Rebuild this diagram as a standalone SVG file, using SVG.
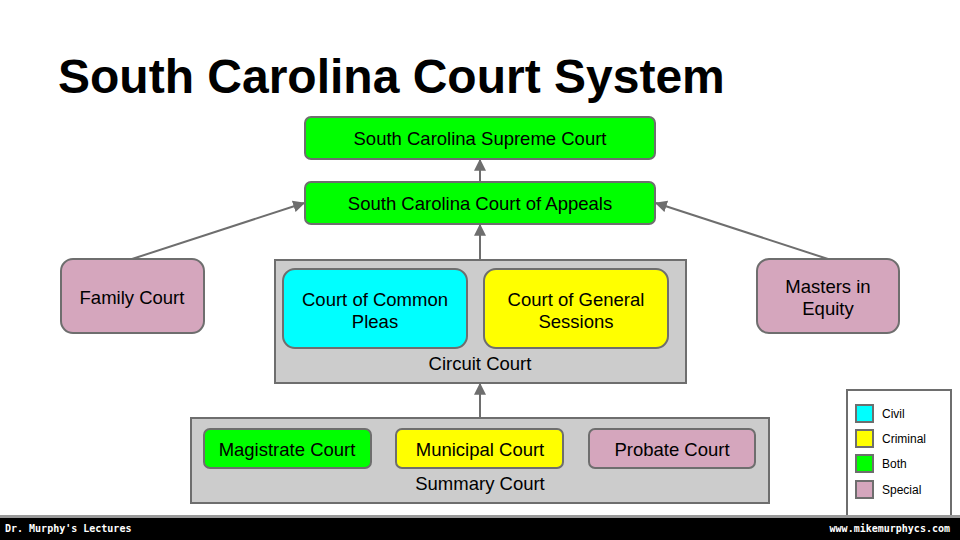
<svg xmlns="http://www.w3.org/2000/svg" width="960" height="540" viewBox="0 0 960 540">
<defs>
<marker id="ah" viewBox="0 0 10 10" refX="9" refY="5" markerWidth="12" markerHeight="12" markerUnits="userSpaceOnUse" orient="auto">
<path d="M0,0 L10,5 L0,10 z" fill="#6e6e6e"/>
</marker>
</defs>
<style>
.t{font-family:"Liberation Sans",Arial,sans-serif;font-size:18.5px;fill:#000;text-anchor:middle}
.b{stroke:#6e6e6e;stroke-width:2}
.g{fill:#00ff00}.y{fill:#ffff00}.c{fill:#00ffff}.p{fill:#d5a6bd}
.box{fill:#cccccc;stroke:#6e6e6e;stroke-width:2}
.lg{font-family:"Liberation Sans",Arial,sans-serif;font-size:12px;fill:#000}
.conn{stroke:#6e6e6e;stroke-width:2;fill:none;marker-end:url(#ah)}
.ft{font-family:"DejaVu Sans Mono","Liberation Mono",monospace;font-size:10px;font-weight:bold;fill:#fff}
</style>
<rect width="960" height="540" fill="#fff"/>
<text x="58" y="93" font-family="Liberation Sans,Arial,sans-serif" font-weight="bold" font-size="48" fill="#000">South Carolina Court System</text>

<g id="circuit">
<rect class="box" x="275" y="260" width="411" height="123"/>
<text class="t" x="480" y="370">Circuit Court</text>
</g>
<g id="summary">
<rect class="box" x="191" y="418" width="578" height="85"/>
<text class="t" x="480" y="490">Summary Court</text>
</g>

<g id="supreme">
<rect class="b g" x="305" y="117" width="350" height="42" rx="6"/>
<text class="t" x="480" y="145">South Carolina Supreme Court</text>
</g>
<g id="appeals">
<rect class="b g" x="305" y="182" width="350" height="42" rx="6"/>
<text class="t" x="480" y="210">South Carolina Court of Appeals</text>
</g>
<g id="common-pleas">
<rect class="b c" x="283" y="269" width="184" height="79" rx="12"/>
<text class="t" x="375" y="306">Court of Common</text>
<text class="t" x="375" y="328">Pleas</text>
</g>
<g id="general-sessions">
<rect class="b y" x="484" y="269" width="184" height="79" rx="12"/>
<text class="t" x="576" y="306">Court of General</text>
<text class="t" x="576" y="328">Sessions</text>
</g>
<g id="family">
<rect class="b p" x="61" y="259" width="143" height="74" rx="12"/>
<text class="t" x="132" y="304">Family Court</text>
</g>
<g id="masters">
<rect class="b p" x="757" y="259" width="142" height="74" rx="12"/>
<text class="t" x="828" y="293">Masters in</text>
<text class="t" x="828" y="315">Equity</text>
</g>
<g id="magistrate">
<rect class="b g" x="204" y="429" width="167" height="39" rx="6"/>
<text class="t" x="287" y="456">Magistrate Court</text>
</g>
<g id="municipal">
<rect class="b y" x="396" y="429" width="167" height="39" rx="6"/>
<text class="t" x="480" y="456">Municipal Court</text>
</g>
<g id="probate">
<rect class="b p" x="589" y="429" width="166" height="39" rx="6"/>
<text class="t" x="672" y="456">Probate Court</text>
</g>

<g id="connectors">
<line class="conn" x1="480" y1="182" x2="480" y2="160"/>
<line class="conn" x1="480" y1="260" x2="480" y2="225"/>
<line class="conn" x1="480" y1="418" x2="480" y2="384"/>
<line class="conn" x1="132" y1="259" x2="304" y2="203"/>
<line class="conn" x1="828" y1="259" x2="656" y2="203"/>
</g>

<g id="legend">
<rect x="847" y="390" width="104" height="130" fill="#fff" stroke="#6e6e6e" stroke-width="2"/>
<rect class="b c" x="856" y="405" width="17" height="17"/>
<text class="lg" x="882" y="418">Civil</text>
<rect class="b y" x="856" y="430" width="17" height="17"/>
<text class="lg" x="882" y="443">Criminal</text>
<rect class="b g" x="856" y="455" width="17" height="17"/>
<text class="lg" x="882" y="468">Both</text>
<rect class="b p" x="856" y="481" width="17" height="17"/>
<text class="lg" x="882" y="494">Special</text>
</g>

<g id="footer">
<rect x="0" y="515" width="960" height="3" fill="#999"/>
<rect x="0" y="518" width="960" height="22" fill="#000"/>
<text class="ft" x="5" y="532">Dr. Murphy's Lectures</text>
<text class="ft" x="950" y="532" text-anchor="end">www.mikemurphycs.com</text>
</g>
</svg>
